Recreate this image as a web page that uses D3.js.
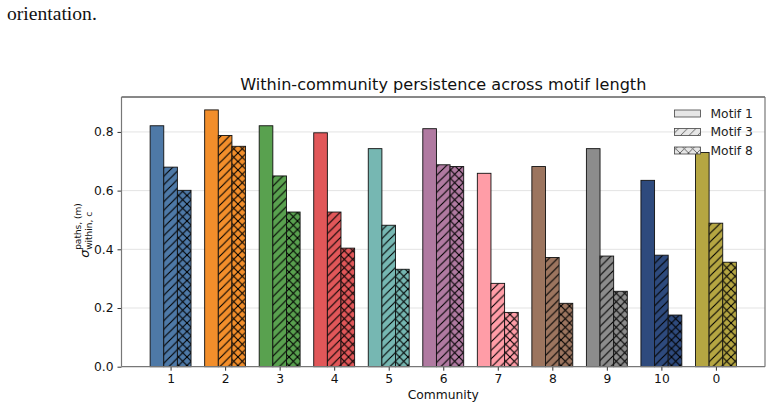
<!DOCTYPE html>
<html><head><meta charset="utf-8">
<script src="https://cdn.jsdelivr.net/npm/d3@7"></script>
<style>body{margin:0;background:#fff}svg{display:block}</style>
</head><body>
<script>
const categories = ["1","2","3","4","5","6","7","8","9","10","0"];
const motifs = ["Motif 1","Motif 3","Motif 8"];
const motif1 = [0.821,0.875,0.821,0.797,0.743,0.811,0.659,0.682,0.743,0.635,0.730];
const motif3 = [0.680,0.788,0.650,0.527,0.482,0.688,0.284,0.372,0.377,0.380,0.489];
const motif8 = [0.601,0.751,0.527,0.404,0.332,0.682,0.185,0.216,0.257,0.176,0.356];
const colors = ["#4e79a7","#f28e2b","#59a14f","#e15759","#76b7b2","#b07aa1","#ff9da7","#9c755f","#8c8c8c","#2e4a7d","#b5a642"];
const yTicks = [0.0,0.2,0.4,0.6,0.8];
const series = [motif1, motif3, motif8];

const W=772,H=408;
const L=121.5,R=765,T=97,B=366.7;
const svg=d3.select("body").append("svg").attr("width",W).attr("height",H);
const defs=svg.append("defs");
const P=8.5;
function makePattern(id,bg,kind,stroke,sw){
  const p=defs.append("pattern").attr("id",id).attr("patternUnits","userSpaceOnUse").attr("width",P).attr("height",P);
  p.append("rect").attr("width",P).attr("height",P).attr("fill",bg);
  const dd=[[0,P,P,0],[-1,1,1,-1],[P-1,P+1,P+1,P-1]];
  dd.forEach(l=>p.append("line").attr("x1",l[0]).attr("y1",l[1]).attr("x2",l[2]).attr("y2",l[3]).attr("stroke",stroke).attr("stroke-width",sw));
  if(kind==="cross"){
    const ee=[[0,0,P,P],[-1,P-1,1,P+1],[P-1,-1,P+1,1]];
    ee.forEach(l=>p.append("line").attr("x1",l[0]).attr("y1",l[1]).attr("x2",l[2]).attr("y2",l[3]).attr("stroke",stroke).attr("stroke-width",sw));
  }
}
colors.forEach((c,i)=>{makePattern("d"+i,c,"diag","#000",1.1);makePattern("x"+i,c,"cross","#000",1.1);});
makePattern("ld","#e6e6e6","diag","#555",0.9);makePattern("lx","#e6e6e6","cross","#555",0.9);

const x=d3.scaleLinear().domain([-0.9,categories.length-1+0.9]).range([L,R]);
const y=d3.scaleLinear().domain([0,0.919]).range([B,T]);
const bw=0.25;

// grid
svg.append("g").selectAll("line").data(yTicks.slice(1)).join("line")
 .attr("x1",L).attr("x2",R).attr("y1",d=>y(d)).attr("y2",d=>y(d))
 .attr("stroke","#e3e3e3").attr("stroke-width",1);

// bars
series.forEach((vals,s)=>{
  svg.append("g").selectAll("rect").data(vals).join("rect")
   .attr("x",(d,i)=>x(i+(s-1)*bw-bw/2))
   .attr("width",x(bw)-x(0))
   .attr("y",d=>y(d)).attr("height",d=>y(0)-y(d))
   .attr("fill",(d,i)=>s===0?colors[i]:`url(#${s===1?"d":"x"}${i})`)
   .attr("stroke","#111").attr("stroke-width",0.9);
});

// axes
const font="DejaVu Sans, sans-serif";
const yA=svg.append("g").attr("transform",`translate(${L},0)`).call(d3.axisLeft(y).tickValues(yTicks).tickFormat(d3.format(".1f")).tickSize(4).tickPadding(4));
const xA=svg.append("g").attr("transform",`translate(0,${B})`).call(d3.axisBottom(x).tickValues(d3.range(categories.length)).tickFormat(i=>categories[i]).tickSize(4).tickPadding(4));
[yA,xA].forEach(a=>{a.select(".domain").remove();a.selectAll("text").attr("font-family",font).attr("font-size",12.3).attr("fill","#111");a.selectAll("line").attr("stroke","#333");});
// spines
svg.append("line").attr("x1",L).attr("x2",R).attr("y1",T).attr("y2",T).attr("stroke","#111").attr("stroke-width",1);
svg.append("line").attr("x1",L).attr("x2",L).attr("y1",T).attr("y2",B).attr("stroke","#777").attr("stroke-width",1.2);
svg.append("line").attr("x1",R).attr("x2",R).attr("y1",T).attr("y2",B).attr("stroke","#777").attr("stroke-width",1.2);
svg.append("line").attr("x1",L).attr("x2",R).attr("y1",B).attr("y2",B).attr("stroke","#777").attr("stroke-width",1.2);

// title
svg.append("text").attr("x",(L+R)/2).attr("y",90).attr("text-anchor","middle").attr("font-family",font).attr("font-size",16.1).attr("fill","#111").text("Within-community persistence across motif length");
// x label
svg.append("text").attr("x",(L+R)/2).attr("y",399).attr("text-anchor","middle").attr("font-family",font).attr("font-size",12.3).attr("fill","#111").text("Community");
// y label
const yl=svg.append("g").attr("transform",`translate(89,${(T+B)/2}) rotate(-90)`);
yl.append("text").attr("x",-26).attr("y",0).attr("font-family",font).attr("font-size",13).attr("font-style","italic").attr("fill","#111").text("σ");
yl.append("text").attr("x",-18).attr("y",-8).attr("font-family",font).attr("font-size",9).attr("fill","#111").text("paths, (m)");
yl.append("text").attr("x",-18).attr("y",3).attr("font-family",font).attr("font-size",9).attr("fill","#111").text("within, c");

// legend
const lg=svg.append("g");
const fills=["#e6e6e6","url(#ld)","url(#lx)"];
motifs.forEach((m,i)=>{
  const cy=113.5+i*18.5;
  lg.append("rect").attr("x",674.5).attr("y",cy-3.5).attr("width",26).attr("height",7).attr("fill",fills[i]).attr("stroke","#444").attr("stroke-width",0.8);
  lg.append("text").attr("x",710.5).attr("y",cy+4.3).attr("font-family",font).attr("font-size",12.3).attr("fill","#222").text(m);
});

// caption fragment
svg.append("text").attr("x",7).attr("y",20).attr("font-family","Liberation Serif, serif").attr("font-size",19.6).attr("fill","#111").text("orientation.");
</script>
</body></html>
